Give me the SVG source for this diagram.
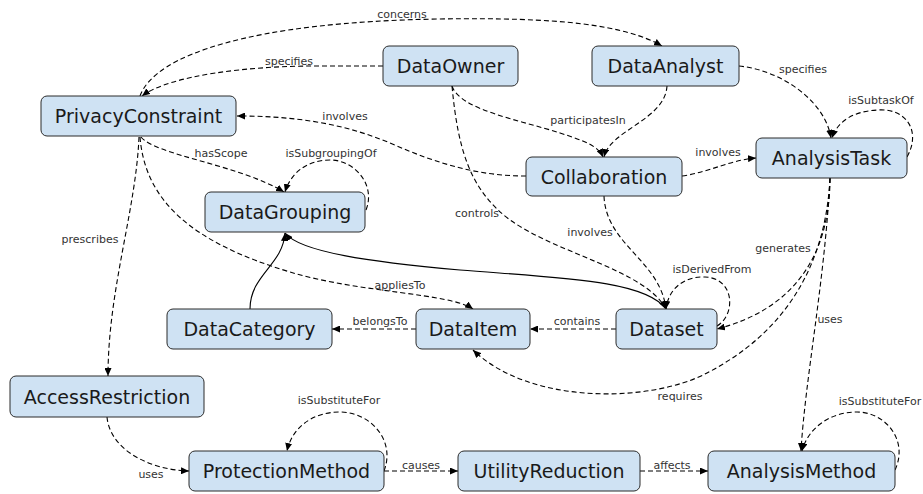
<svg xmlns="http://www.w3.org/2000/svg" width="923" height="494" viewBox="0 0 923 494">
  <style>
    .node rect { fill: #cfe2f3; stroke: #2b2b2b; stroke-width: 1; }
    .node text { font-family: "DejaVu Sans", Verdana, sans-serif; font-size: 19px; fill: #1a1a1a; text-anchor: middle; }
    .edge { fill: none; stroke: #000000; stroke-width: 1.1; }
    .dashed { stroke-dasharray: 5 3; }
    .arrow { marker-end: url(#head); }
    .label { font-family: "DejaVu Sans", Verdana, sans-serif; font-size: 11px; fill: #333333; text-anchor: middle; }
  </style>
  <defs>
    <marker id="head" markerUnits="userSpaceOnUse" markerWidth="9" markerHeight="7" refX="8" refY="3.5" orient="auto">
      <path d="M0,0 L8,3.5 L0,7 z" fill="#000000"/>
    </marker>
  </defs>
  <rect width="923" height="494" fill="#ffffff"/>

  <g id="connectors">
    <path class="edge dashed arrow" d="M140,96 C155,55 250,22 440,19 C560,17 625,25 662,46"/>
    <path class="edge dashed arrow" d="M383,66 L315,66 C250,66 170,75 142,96"/>
    <path class="edge dashed arrow" d="M739,66 C780,70 825,100 831,138"/>
    <path class="edge dashed arrow" d="M907,157 C922,130 905,108 878,110 C855,111 838,120 832,138"/>
    <path class="edge dashed arrow" d="M452,86 C460,110 520,120 560,133 C585,141 598,146 603,157"/>
    <path class="edge dashed arrow" d="M667,86 C665,120 610,130 604,157"/>
    <path class="edge dashed arrow" d="M452,86 C458,150 470,190 510,220 C560,255 645,270 666,309"/>
    <path class="edge dashed arrow" d="M604,196 C606,245 660,260 666,309"/>
    <path class="edge dashed arrow" d="M526,176 C480,176 440,165 390,143 C340,122 290,116 237,116"/>
    <path class="edge dashed arrow" d="M682,176 C710,172 730,160 756,158"/>
    <path class="edge dashed arrow" d="M141,137 C155,155 240,165 284,192"/>
    <path class="edge dashed arrow" d="M366,210 C376,185 355,160 330,160 C305,160 290,175 285,192"/>
    <path class="edge dashed arrow" d="M139,137 C136,210 108,290 108,376"/>
    <path class="edge dashed arrow" d="M140,137 C145,200 190,242 290,272 C360,293 450,293 473,309"/>
    <path class="edge arrow" d="M666,309 C645,280 560,278 460,270 C370,262 300,252 285,233"/>
    <path class="edge arrow" d="M250,309 C250,275 283,265 285,233"/>
    <path class="edge dashed arrow" d="M416,329 L332,329"/>
    <path class="edge dashed arrow" d="M616,329 L530,329"/>
    <path class="edge dashed arrow" d="M717,326 C736,315 735,278 705,277 C683,276 668,290 666,309"/>
    <path class="edge dashed arrow" d="M830,178 C830,260 790,310 717,329"/>
    <path class="edge dashed arrow" d="M830,178 C826,260 790,330 707,373 C650,403 530,405 473,350"/>
    <path class="edge dashed arrow" d="M830,178 C825,280 805,380 801,451"/>
    <path class="edge dashed arrow" d="M895,470 C909,440 885,412 857,412 C830,412 808,428 802,451"/>
    <path class="edge dashed arrow" d="M107,417 C110,450 150,470 189,471"/>
    <path class="edge dashed arrow" d="M384,471 C396,440 370,412 340,412 C312,412 292,428 287,451"/>
    <path class="edge dashed arrow" d="M384,471 L458,471"/>
    <path class="edge dashed arrow" d="M640,471 L708,471"/>

    <text class="label" x="402" y="18">concerns</text>
    <text class="label" x="289" y="65">specifies</text>
    <text class="label" x="803" y="73">specifies</text>
    <text class="label" x="881" y="104">isSubtaskOf</text>
    <text class="label" x="588" y="124">participatesIn</text>
    <text class="label" x="345" y="120">involves</text>
    <text class="label" x="718" y="156">involves</text>
    <text class="label" x="221" y="157">hasScope</text>
    <text class="label" x="331" y="157">isSubgroupingOf</text>
    <text class="label" x="477" y="217">controls</text>
    <text class="label" x="590" y="236">involves</text>
    <text class="label" x="90" y="243">prescribes</text>
    <text class="label" x="783" y="252">generates</text>
    <text class="label" x="712" y="273">isDerivedFrom</text>
    <text class="label" x="400" y="289">appliesTo</text>
    <text class="label" x="830" y="323">uses</text>
    <text class="label" x="380" y="325">belongsTo</text>
    <text class="label" x="577" y="325">contains</text>
    <text class="label" x="680" y="400">requires</text>
    <text class="label" x="339" y="404">isSubstituteFor</text>
    <text class="label" x="880" y="405">isSubstituteFor</text>
    <text class="label" x="421" y="469">causes</text>
    <text class="label" x="672" y="469">affects</text>
    <text class="label" x="151" y="478">uses</text>
  </g>

  <g id="PrivacyConstraint" class="node">
    <rect x="41" y="96" width="195" height="40" rx="6"/>
    <text x="138.5" y="123">PrivacyConstraint</text>
  </g>
  <g id="DataOwner" class="node">
    <rect x="383" y="46" width="135" height="40" rx="6"/>
    <text x="450.5" y="73">DataOwner</text>
  </g>
  <g id="DataAnalyst" class="node">
    <rect x="592" y="46" width="147" height="40" rx="6"/>
    <text x="665.5" y="73">DataAnalyst</text>
  </g>
  <g id="AnalysisTask" class="node">
    <rect x="756" y="138" width="151" height="40" rx="6"/>
    <text x="831.5" y="165">AnalysisTask</text>
  </g>
  <g id="Collaboration" class="node">
    <rect x="526" y="157" width="156" height="39" rx="6"/>
    <text x="604" y="183.5">Collaboration</text>
  </g>
  <g id="DataGrouping" class="node">
    <rect x="205" y="192" width="160" height="40" rx="6"/>
    <text x="285" y="219">DataGrouping</text>
  </g>
  <g id="DataCategory" class="node">
    <rect x="167" y="309" width="165" height="40" rx="6"/>
    <text x="249.5" y="336">DataCategory</text>
  </g>
  <g id="DataItem" class="node">
    <rect x="416" y="309" width="114" height="40" rx="6"/>
    <text x="473" y="336">DataItem</text>
  </g>
  <g id="Dataset" class="node">
    <rect x="616" y="309" width="101" height="40" rx="6"/>
    <text x="666.5" y="336">Dataset</text>
  </g>
  <g id="AccessRestriction" class="node">
    <rect x="10" y="376" width="194" height="41" rx="6"/>
    <text x="107" y="403.5">AccessRestriction</text>
  </g>
  <g id="ProtectionMethod" class="node">
    <rect x="189" y="451" width="195" height="40" rx="6"/>
    <text x="286.5" y="478">ProtectionMethod</text>
  </g>
  <g id="UtilityReduction" class="node">
    <rect x="458" y="451" width="182" height="40" rx="6"/>
    <text x="549" y="478">UtilityReduction</text>
  </g>
  <g id="AnalysisMethod" class="node">
    <rect x="708" y="451" width="187" height="40" rx="6"/>
    <text x="801.5" y="478">AnalysisMethod</text>
  </g>
</svg>
